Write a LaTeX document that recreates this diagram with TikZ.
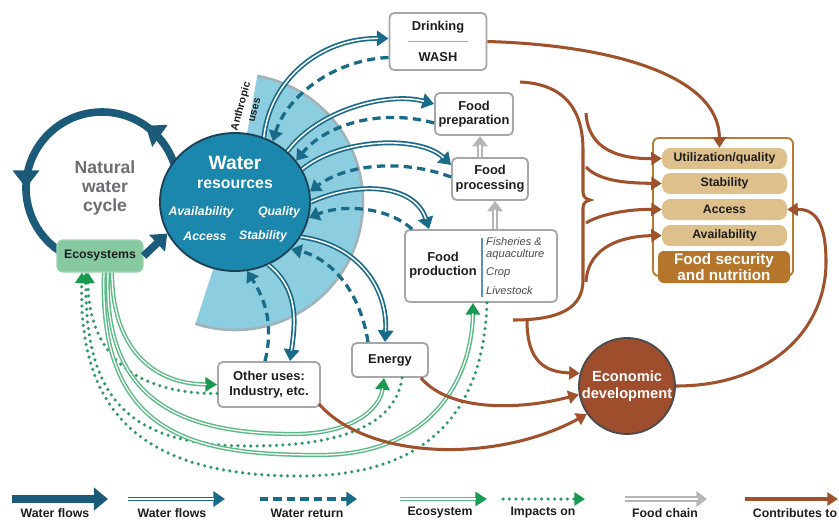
\documentclass[tikz,border=0pt]{standalone}
\usepackage{fontspec}
\setmainfont{Liberation Sans}
\usetikzlibrary{arrows.meta,decorations.markings,calc,shapes.geometric}
\definecolor{tealD}{HTML}{1B5A78}
\definecolor{tealA}{HTML}{1A6B8A}
\definecolor{wrFill}{HTML}{1B87AD}
\definecolor{wrBorder}{HTML}{1C4257}
\definecolor{secC}{HTML}{8CCDE0}
\definecolor{greyS}{HTML}{A3B1B8}
\definecolor{greyB}{HTML}{A5A7AA}
\definecolor{greyA}{HTML}{B4B6B8}
\definecolor{greenL}{HTML}{5CBA86}
\definecolor{greenD}{HTML}{1A9A50}
\definecolor{greenDot}{HTML}{2E9A68}
\definecolor{ecoC}{HTML}{86C9A0}
\definecolor{brownC}{HTML}{A0522D}
\definecolor{econC}{HTML}{9E4E2D}
\definecolor{fsBorder}{HTML}{B87A30}
\definecolor{pillC}{HTML}{DDC08C}
\definecolor{fsDark}{HTML}{B5752A}
\definecolor{txt}{HTML}{1E1E1E}
\definecolor{natC}{HTML}{6D6E71}
\definecolor{lineB}{HTML}{5B8FC0}
\begin{document}
\begin{tikzpicture}[x=0.03cm,y=-0.03cm,
  box/.style={draw=greyB, line width=1.6pt, rounded corners=4pt, fill=white, inner sep=0pt, align=center, font=\bfseries\fontsize{11}{12.5}\selectfont, text=txt},
  thickflow/.style={draw=tealD, line width=6.5pt, -{Triangle[length=12pt,width=19pt]}},
  dflow/.style={draw=tealA, line width=4.2pt, -{Triangle[length=10pt,width=13pt]}, postaction={draw=white, line width=1.3pt, arrows=-, shorten >=9pt}},
  ret/.style={draw=tealA, line width=2.8pt, dash pattern=on 7pt off 4.5pt, -{Triangle[length=9pt,width=12pt]}},
  ecof/.style={draw=greenL, line width=3.6pt, -{Triangle[length=10pt,width=12pt,color=greenD]}, postaction={draw=white, line width=1.1pt, arrows=-, shorten >=9pt}},
  imp/.style={draw=greenDot, line width=3pt, dash pattern=on 0pt off 5.5pt, line cap=round, -{Triangle[length=9pt,width=11pt,color=greenD]}},
  chain/.style={draw=greyA, line width=4.5pt, -{Triangle[length=9pt,width=13pt]}, postaction={draw=white, line width=1.5pt, arrows=-, shorten >=8pt}},
  contrib/.style={draw=brownC, line width=2.6pt, -{Triangle[length=9pt,width=11pt]}},
  pill/.style={fill=pillC, rounded corners=7pt, minimum width=3.75cm, minimum height=0.63cm, inner sep=0pt, font=\bfseries\fontsize{10.5}{12}\selectfont, text=txt},
  wtxt/.style={text=white, font=\bfseries\itshape\fontsize{10.5}{12}\selectfont},
  leg/.style={font=\bfseries\fontsize{10.5}{12}\selectfont, text=txt},
]
\useasboundingbox (0,0) rectangle (839,521);
\fill[white] (0,0) rectangle (839,521);
\coordinate (c) at (235,202);
% sector
\fill[secC] (c) -- ++(80:3.84cm) arc[start angle=80, end angle=-108, radius=3.84cm] -- cycle;
\draw[greyS, line width=2.2pt] (c) ++(80:3.84cm) arc[start angle=80, end angle=-108, radius=3.84cm];
\node[rotate=75, align=center, font=\bfseries\fontsize{9}{12}\selectfont, text=txt] (anth) at (247,108) {Anthropic\\uses};
% natural water cycle ring
\draw[draw=tealD, line width=6.5pt, postaction={decorate}, decoration={markings,
  mark=at position 0.22 with {\arrow{Triangle[length=15pt,width=22pt]}},
  mark=at position 0.72 with {\arrow{Triangle[length=15pt,width=22pt]}}}]
  (178,188) arc[start angle=0, end angle=250, radius=2.28cm];
\node[align=center, text=natC, font=\bfseries\fontsize{15}{16.6}\selectfont] (nat) at (105,188) {Natural\\water\\cycle};
% water resources
\node[ellipse, draw=wrBorder, line width=1.6pt, fill=wrFill, minimum width=4.5cm, minimum height=4.14cm, inner sep=0pt] (wr) at (c) {};
\node[text=white, font=\bfseries\fontsize{16.5}{18}\selectfont] (wt1) at (235,163) {Water};
\node[text=white, font=\bfseries\fontsize{13.5}{15}\selectfont] (wt2) at (235,184) {resources};
\node[wtxt] (wt3) at (201,212) {Availability};
\node[wtxt] (wt4) at (279,212) {Quality};
\node[wtxt] (wt5) at (205,236) {Access};
\node[wtxt] (wt6) at (263,236) {Stability};
% ecosystems
\node[draw=ecoC!80!white, fill=ecoC, line width=1pt, rounded corners=5pt, minimum width=2.58cm, minimum height=0.96cm, inner sep=0pt, font=\bfseries\fontsize{10.5}{12}\selectfont, text=txt] (eco) at (100,256) {Ecosystems};
\draw[thickflow] (eco.east) -- (wr.205);
% boxes
\node[box, minimum width=2.91cm, minimum height=1.71cm] (dr) at (438,41.5) {};
\node[font=\bfseries\fontsize{11}{12.5}\selectfont, text=txt] (drt1) at (438,27) {Drinking};
\node[font=\bfseries\fontsize{11}{12.5}\selectfont, text=txt] (drt2) at (438,57) {WASH};
\draw[greyB, line width=1.2pt] ($(dr.center)+(-30,0)$) -- ($(dr.center)+(30,0)$);
\node[box, minimum width=2.34cm, minimum height=1.26cm] (fp) at (474,114) {Food\\preparation};
\node[box, minimum width=2.28cm, minimum height=1.26cm] (fc) at (490,179) {Food\\processing};
\node[box, minimum width=4.56cm, minimum height=2.16cm] (fd) at (481,266) {};
\node[align=center, font=\bfseries\fontsize{11}{12.5}\selectfont, text=txt] (fdt) at (443,265) {Food\\production};
\draw[lineB, line width=1.3pt] (482,238) -- (482,297);
\node[anchor=west, inner sep=0pt, font=\itshape\fontsize{9.5}{11}\selectfont, text=txt!80] (fd1) at (486,242) {Fisheries \&};
\node[anchor=west, inner sep=0pt, font=\itshape\fontsize{9.5}{11}\selectfont, text=txt!80] (fd2) at (486,255) {aquaculture};
\node[anchor=west, inner sep=0pt, font=\itshape\fontsize{9.5}{11}\selectfont, text=txt!80] (fd3) at (486,273) {Crop};
\node[anchor=west, inner sep=0pt, font=\itshape\fontsize{9.5}{11}\selectfont, text=txt!80] (fd4) at (486,291) {Livestock};
\node[box, minimum width=2.28cm, minimum height=1.02cm] (en) at (390,360) {Energy};
\node[box, minimum width=3.06cm, minimum height=1.35cm] (ou) at (269,384.5) {Other uses:\\Industry, etc.};
% economic development
\node[circle, draw=black!70, line width=1.6pt, fill=econC, minimum size=2.88cm, inner sep=0pt, align=center, text=white, font=\bfseries\fontsize{12.5}{14.5}\selectfont] (ec) at (627,386) {Economic\\development};
% food security
\node[draw=fsBorder, line width=1.6pt, rounded corners=5pt, fill=white, minimum width=4.2cm, minimum height=4.14cm, inner sep=0pt] (frame) at (723,207) {};
\node[pill] (ut) at (724.5,158.5) {Utilization/quality};
\node[pill] (st) at (724.5,183.5) {Stability};
\node[pill] (ac) at (724.5,209.5) {Access};
\node[pill] (av) at (724.5,235.5) {Availability};
\node[fill=fsDark, rounded corners=5pt, minimum width=3.96cm, minimum height=0.96cm, inner sep=0pt, align=center, text=white, font=\bfseries\fontsize{13}{13.5}\selectfont] (fs) at (724,267) {Food security\\and nutrition};
% water flows (anthropic)
\draw[dflow] (wr.66) .. controls (270,80) and (320,38) .. ($(dr.west)+(0,-3)$);
\draw[ret] ($(dr.west)+(0,16)$) .. controls (330,60) and (285,100) .. (wr.58);
\draw[dflow] (wr.44) .. controls (320,108) and (390,92) .. ($(fp.west)+(0,-10)$);
\draw[ret] ($(fp.west)+(0,9)$) .. controls (380,108) and (325,125) .. (wr.34);
\draw[dflow] (wr.26) .. controls (340,138) and (420,135) .. ($(fc.west)+(0,-14)$);
\draw[ret] ($(fc.west)+(0,-2)$) .. controls (400,158) and (345,165) .. (wr.8);
\draw[dflow] (wr.0) .. controls (360,180) and (415,185) .. ($(fd.north west)+(25,0)$);
\draw[ret] ($(fd.north west)+(8,0)$) .. controls (385,205) and (340,205) .. (wr.-12);
\draw[dflow] (wr.-28) .. controls (360,245) and (388,290) .. ($(en.north)+(-5,0)$);
\draw[ret] ($(en.north)+(-22,0)$) .. controls (360,290) and (330,258) .. (wr.-40);
\draw[dflow] (wr.-62) .. controls (300,290) and (295,325) .. ($(ou.north)+(21,0)$);
\draw[ret] ($(ou.north)+(-4,0)$) .. controls (275,320) and (262,295) .. (wr.-80);
% food chain
\draw[chain] ($(fd.north)+(14,0)$) -- ($(fc.south)+(5,0)$);
\draw[chain] ($(fc.north)+(-10,0)$) -- ($(fp.south)+(6,0)$);
% ecosystem flows and impacts
\draw[imp] ($(ou.west)+(0,9)$) .. controls (130,394) and (88,350) .. ($(eco.south)+(-12,0)$);
\draw[imp] ($(en.south)+(12,0)$) .. controls (395,430) and (330,446) .. (250,446) .. controls (130,446) and (85,400) .. ($(eco.south)+(-14,0)$);
\draw[imp] ($(fd.south)+(6,0)$) .. controls (483,420) and (420,476) .. (300,476) .. controls (150,476) and (78,420) .. ($(eco.south)+(-18,0)$);
\draw[ecof] ($(eco.south)+(12,0)$) .. controls (112,345) and (150,384) .. (ou.west);
\draw[ecof] ($(eco.south)+(8,0)$) .. controls (103,400) and (180,433) .. (290,434) .. controls (350,435) and (380,410) .. ($(en.south)+(-6,0)$);
\draw[ecof] ($(eco.south)+(4,0)$) .. controls (98,440) and (200,455) .. (320,455) .. controls (430,455) and (472,380) .. ($(fd.south)+(-8,0)$);
% contributes to
\draw[contrib] (dr.east) .. controls (610,45) and (719,75) .. ($(ut.north)+(-5,0)$);
\draw[brownC, line width=2.6pt] (520,82) .. controls (565,84) and (583,110) .. (583,150) -- (583,192) .. controls (583,197) and (586,199) .. (590,200) .. controls (586,201) and (583,203) .. (583,208) -- (583,280) .. controls (583,308) and (560,320) .. (513,320);
\coordinate (f1) at (586,113);
\coordinate (f2) at (586,167);
\coordinate (f3) at (586,223);
\coordinate (f4) at (586,282);
\coordinate (bb) at (527,320);
\draw[contrib] (f1) .. controls (588,150) and (620,159) .. (ut.west);
\draw[contrib] (f2) .. controls (600,182) and (630,183) .. (st.west);
\draw[contrib] (f3) .. controls (600,214) and (630,209) .. (ac.west);
\draw[contrib] (f4) .. controls (588,245) and (625,236) .. (av.west);
\draw[contrib] (bb) .. controls (527,362) and (545,372) .. (ec.165);
\draw[contrib] ($(en.south east)+(-8,0)$) .. controls (450,412) and (520,410) .. (ec.190);
\draw[contrib] ($(ou.south east)+(-2,-4)$) .. controls (370,462) and (500,462) .. (ec.215);
\draw[contrib] (ec.east) .. controls (770,386) and (826,330) .. (826,262) .. controls (826,222) and (815,209) .. (ac.east);
% legend
\coordinate (l1a) at (12,499); \coordinate (l1b) at (108,499);
\coordinate (l2a) at (128,499); \coordinate (l2b) at (225,499);
\coordinate (l3a) at (260,499); \coordinate (l3b) at (357,499);
\coordinate (l4a) at (400,499); \coordinate (l4b) at (487,499);
\coordinate (l5a) at (503,499); \coordinate (l5b) at (585,499);
\coordinate (l6a) at (625,499); \coordinate (l6b) at (707,499);
\coordinate (l7a) at (745,499); \coordinate (l7b) at (838,499);
\draw[thickflow] (l1a) -- (l1b);
\draw[dflow] (l2a) -- (l2b);
\draw[ret] (l3a) -- (l3b);
\draw[ecof] (l4a) -- (l4b);
\draw[imp] (l5a) -- (l5b);
\draw[chain] (l6a) -- (l6b);
\draw[contrib] (l7a) -- (l7b);
\node[leg] (t1) at (55,513) {Water flows};
\node[leg] (t2) at (172,513) {Water flows};
\node[leg] (t3) at (307,513) {Water return};
\node[leg] (t4) at (440,513) {Ecosystem};
\node[leg] (t5) at (543,513) {Impacts on};
\node[leg] (t6) at (665,513) {Food chain};
\node[leg] (t7) at (795,513) {Contributes to};
\end{tikzpicture}
\end{document}
